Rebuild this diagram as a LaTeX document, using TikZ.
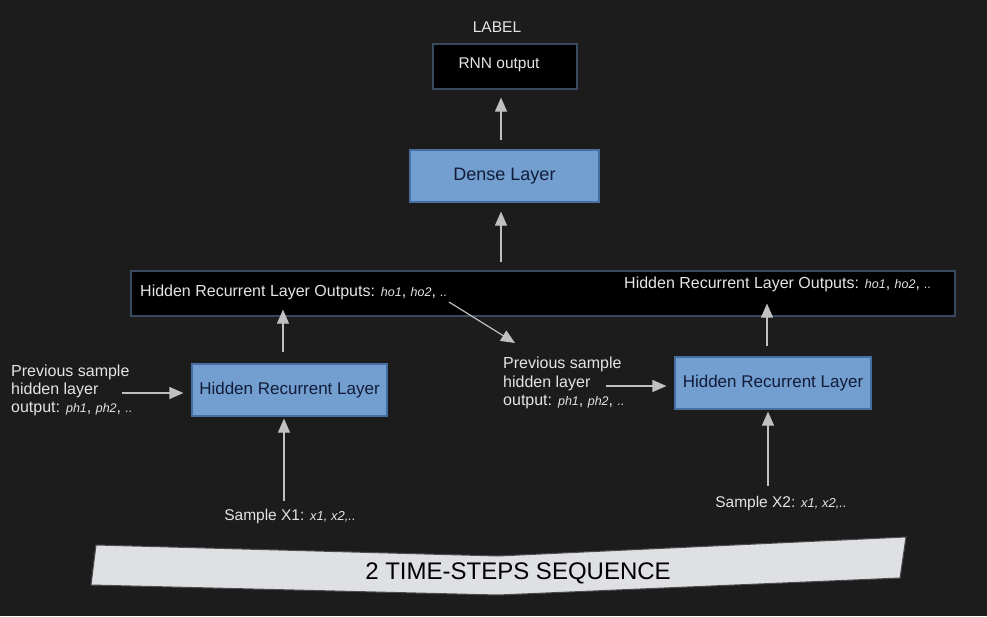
\documentclass[tikz,border=0pt]{standalone}
\usepackage{fontspec}
\setmainfont{Liberation Sans}
\usetikzlibrary{arrows.meta}
\definecolor{bg}{RGB}{28,28,28}
\definecolor{boxblue}{RGB}{114,159,207}
\definecolor{boxedge}{RGB}{70,110,160}
\definecolor{navy}{RGB}{18,28,58}
\definecolor{baredge}{RGB}{58,74,94}
\definecolor{arrowgrey}{RGB}{192,192,192}
\definecolor{txtgrey}{RGB}{228,228,228}
\definecolor{banner}{RGB}{222,224,228}
\newcommand{\fs}[1]{\fontsize{#1}{#1}\selectfont}
\newcommand{\itx}[1]{{\fontsize{12.5}{12.5}\selectfont\itshape #1}}
\newcommand{\itxs}[1]{{\fontsize{13}{13}\selectfont\itshape #1}}
\tikzset{
  bluebox/.style={draw=boxedge, line width=1.2pt, fill=boxblue, text=navy, inner sep=0pt, font=\fs{17}},
  darkbox/.style={draw=baredge, line width=1.2pt, fill=black, inner sep=0pt},
  txt/.style={text=txtgrey, inner sep=0pt, font=\fs{16}},
  arr/.style={draw=arrowgrey, line width=1.2pt, -{Triangle[length=14pt,width=12pt]}}
}
\begin{document}
\begin{tikzpicture}[x=1pt,y=-1pt]
\fill[bg] (0,0) rectangle (987,616);
\useasboundingbox (0,0) rectangle (987,616);

% top
\node[txt, font=\fs{15.5}] (label) at (497,27) {LABEL};
\node[darkbox, minimum width=144pt, minimum height=45pt] (rnn) at (505,66.5) {};
\node[txt, font=\fs{15.5}] (rnnt) at (499,64.5) {RNN output};
\node[bluebox, minimum width=189pt, minimum height=52pt, font=\fs{18}] (dense) at (504.5,176) {Dense Layer};

% hidden outputs bar
\node[darkbox, minimum width=824pt, minimum height=45pt] (bar) at (543,293.5) {};
\node[txt, anchor=west] (lout) at (140,292.5) {Hidden Recurrent Layer Outputs: \itx{ho1}, \itx{ho2}, \itx{..}};
\node[txt, anchor=west] (rout) at (624,284.5) {Hidden Recurrent Layer Outputs: \itx{ho1}, \itx{ho2}, \itx{..}};

% hidden layers
\node[bluebox, minimum width=195pt, minimum height=52pt] (hrl1) at (289.5,390) {Hidden Recurrent Layer};
\node[bluebox, minimum width=196pt, minimum height=52pt] (hrl2) at (773,383) {Hidden Recurrent Layer};

% previous sample texts
\node[txt, anchor=west, align=left, font=\fs{16}, execute at begin node={\baselineskip=18pt}] (prev1) at (11,390)
  {Previous sample\\hidden layer\\output: \itx{ph1}, \itx{ph2}, \itx{..}};
\node[txt, anchor=west, align=left, font=\fs{16}, execute at begin node={\baselineskip=18.5pt}] (prev2) at (503,383)
  {Previous sample\\hidden layer\\output: \itx{ph1}, \itx{ph2}, \itx{..}};

% samples
\node[txt, font=\fs{15.5}] (s1) at (290,516.5) {Sample X1: \itxs{x1, x2,..}};
\node[txt, font=\fs{15.5}] (s2) at (781,503.5) {Sample X2: \itxs{x1, x2,..}};

% arrows
\draw[arr] ([xshift=-3.5pt,yshift=9pt]dense.north) -- ([xshift=-4pt,yshift=-8pt]rnn.south);
\draw[arr] ([xshift=-3.5pt,yshift=8pt]dense.south |- bar.north) -- ([xshift=-3.5pt,yshift=-9pt]dense.south);
\draw[arr] ([xshift=-6.5pt,yshift=11pt]hrl1.north) -- ([xshift=-6.5pt,yshift=7pt]hrl1.north |- bar.south);
\draw[arr] ([xshift=-6pt,yshift=10pt]hrl2.north) -- ([xshift=-6pt,yshift=13pt]hrl2.north |- bar.south);
\coordinate (dstart) at (449,302);
\coordinate (dend) at (515,343);
\draw[arr] (dstart) -- (dend);
\draw[arr] ([xshift=-69pt,yshift=-3pt]hrl1.west) -- ([xshift=-8pt,yshift=-3pt]hrl1.west);
\draw[arr] ([xshift=-68pt,yshift=-3pt]hrl2.west) -- ([xshift=-8pt,yshift=-3pt]hrl2.west);
\draw[arr] ([xshift=-5.5pt]hrl1.south |- s1.north) ++(0,-8) -- ([xshift=-5.5pt,yshift=-2pt]hrl1.south);
\draw[arr] ([xshift=-5pt]hrl2.south |- s2.north) ++(0,-10) -- ([xshift=-5pt,yshift=-2pt]hrl2.south);

% banner
\draw[fill=banner, draw=black!70, line width=1pt] (96,545) -- (498,556) -- (906,537) -- (900,578) -- (498,595) -- (91,585) -- cycle;
\node[text=black, inner sep=0pt, font=\fs{24}] (ban) at (518,573) {2 TIME-STEPS SEQUENCE};
\end{tikzpicture}
\end{document}
